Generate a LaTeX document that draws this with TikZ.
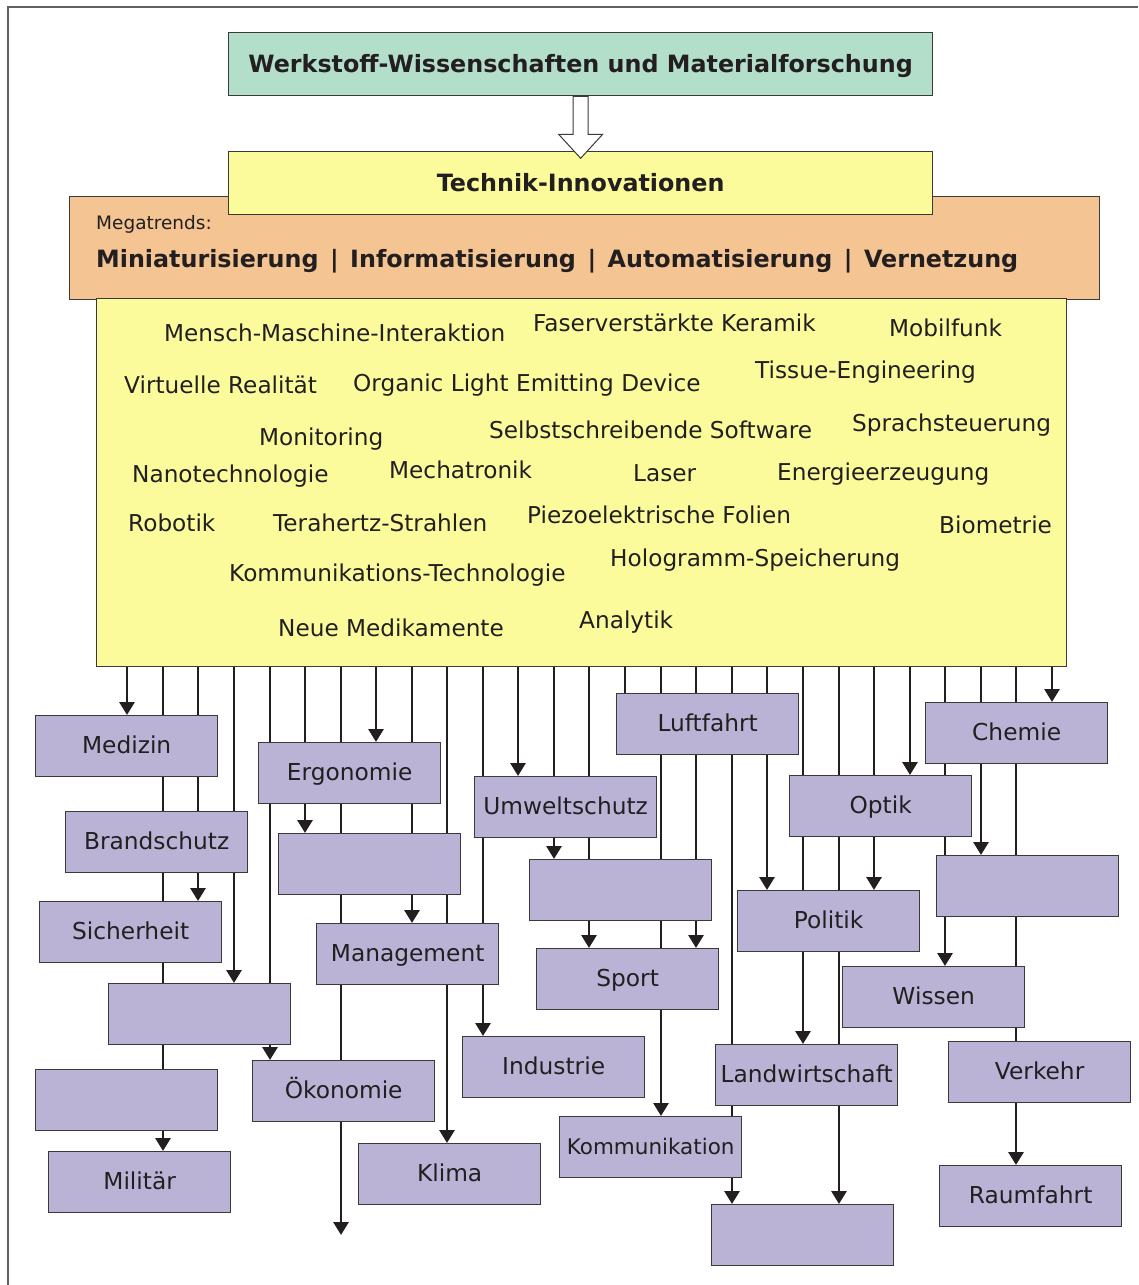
\documentclass[tikz,border=0pt]{standalone}
\usepackage{fontspec}
\setmainfont{DejaVu Sans}
\usetikzlibrary{arrows.meta,calc}
\definecolor{txt}{HTML}{231F20}
\definecolor{lc}{HTML}{231F20}
\definecolor{edge}{HTML}{3A3A3A}
\definecolor{green}{HTML}{B3DEC9}
\definecolor{yel}{HTML}{FBFB9C}
\definecolor{orng}{HTML}{F4C592}
\definecolor{purp}{HTML}{BBB3D6}
\pgfdeclarelayer{bg}
\pgfsetlayers{bg,main}
\begin{document}
\begin{tikzpicture}[x=1pt,y=-1pt,
  frame/.style={draw=edge, line width=1.3pt, anchor=north west, inner sep=0pt},
  pbox/.style={frame, fill=purp, minimum width=182pt, minimum height=61pt,
    font=\fontsize{23.3}{27}\selectfont, text=txt, text height=16.5pt, text depth=2.5pt},
  bigbox/.style={frame, font=\fontsize{23.8}{28}\bfseries\selectfont, text=txt,
    text height=17pt, text depth=0pt},
  term/.style={anchor=base west, inner sep=0pt, text=txt, font=\fontsize{23.2}{27}\selectfont},
  conn/.style={draw=lc, line width=2.9pt},
  arr/.style={conn, -{Triangle[width=15pt,length=13pt]}}]
\useasboundingbox (0,0) rectangle (1138,1285);
% outer frame (top and left edges visible)
\draw[draw=edge!80, line width=1.2pt] (8,1285) -- (8,7) -- (1138,7);

% top boxes
\node[bigbox, fill=green, minimum width=704pt, minimum height=63pt] (title) at (228,32)
  {Werkstoff-Wissenschaften und Materialforschung};
\node[frame, fill=orng, minimum width=1030pt, minimum height=103pt] (mega) at (69,196) {};
\node[bigbox, fill=yel, minimum width=704pt, minimum height=63pt] (tech) at (228,151)
  {Technik-Innovationen};
\draw[draw=edge, fill=white, line width=1pt, line join=miter]
  ($(title.south)+(-7.5,0)$) -- ($(title.south)+(7.5,0)$) -- ($(title.south)+(7.5,38)$)
  -- ($(title.south)+(22,38)$) -- ($(title.south)+(0,62)$) -- ($(title.south)+(-22,38)$)
  -- ($(title.south)+(-7.5,38)$) -- cycle;
\node[term, font=\fontsize{18.5}{22}\selectfont] (megalbl) at (96,229) {Megatrends:};
\node[term, font=\fontsize{23.8}{28}\bfseries\selectfont] (trends) at (96,267)
  {Miniaturisierung\hspace{11.5pt}|\hspace{11.5pt}Informatisierung\hspace{11.5pt}|\hspace{11.5pt}Automatisierung\hspace{11.5pt}|\hspace{11.5pt}Vernetzung};
\node[frame, fill=yel, minimum width=970pt, minimum height=368pt] (inno) at (96,298) {};

% innovation terms
\node[term] (t1) at (164,341) {Mensch-Maschine-Interaktion};
\node[term] (t2) at (533,331) {Faserverstärkte Keramik};
\node[term] (t3) at (889,336) {Mobilfunk};
\node[term] (t4) at (124,393) {Virtuelle Realität};
\node[term] (t5) at (353,391) {Organic Light Emitting Device};
\node[term] (t6) at (755,378) {Tissue-Engineering};
\node[term] (t7) at (259,445) {Monitoring};
\node[term] (t8) at (489,438) {Selbstschreibende Software};
\node[term] (t9) at (852,431) {Sprachsteuerung};
\node[term] (t10) at (132,482) {Nanotechnologie};
\node[term] (t11) at (389,478) {Mechatronik};
\node[term] (t12) at (633,481) {Laser};
\node[term] (t13) at (777,480) {Energieerzeugung};
\node[term] (t14) at (128,531) {Robotik};
\node[term] (t15) at (273,531) {Terahertz-Strahlen};
\node[term] (t16) at (527,523) {Piezoelektrische Folien};
\node[term] (t17) at (939,533) {Biometrie};
\node[term] (t18) at (229,581) {Kommunikations-Technologie};
\node[term] (t19) at (610,566) {Hologramm-Speicherung};
\node[term] (t20) at (278,636) {Neue Medikamente};
\node[term] (t21) at (579,628) {Analytik};

% application boxes
\node[pbox] (med) at (35,715) {Medizin};
\node[pbox] (bs) at (65,811) {Brandschutz};
\node[pbox] (sich) at (39,901) {Sicherheit};
\node[pbox] (e1) at (108,983) {};
\node[pbox] (e2) at (35,1069) {};
\node[pbox] (mil) at (48,1151) {Militär};
\node[pbox] (ergo) at (258,742) {Ergonomie};
\node[pbox] (e3) at (278,833) {};
\node[pbox] (mgmt) at (316,923) {Management};
\node[pbox] (oek) at (252,1060) {Ökonomie};
\node[pbox] (klima) at (358,1143) {Klima};
\node[pbox] (umw) at (474,776) {Umweltschutz};
\node[pbox] (e4) at (529,859) {};
\node[pbox] (sport) at (536,948) {Sport};
\node[pbox] (ind) at (462,1036) {Industrie};
\node[pbox, font=\fontsize{21.5}{25}\selectfont] (komm) at (559,1116) {Kommunikation};
\node[pbox] (luft) at (616,693) {Luftfahrt};
\node[pbox] (pol) at (737,890) {Politik};
\node[pbox] (land) at (715,1044) {Landwirtschaft};
\node[pbox] (e5) at (711,1204) {};
\node[pbox] (optik) at (789,775) {Optik};
\node[pbox] (chem) at (925,702) {Chemie};
\node[pbox] (e6) at (936,855) {};
\node[pbox] (wiss) at (842,966) {Wissen};
\node[pbox] (verk) at (948,1041) {Verkehr};
\node[pbox] (raum) at (939,1165) {Raumfahrt};

% connector columns
\foreach \i/\xx in {1/127,2/163,3/198,4/234,5/270,6/305,7/341,8/376,9/412,10/447,
  11/483,12/518,13/554,14/589,15/625,16/661,17/696,18/732,19/767,20/803,21/839,
  22/874,23/910,24/945,25/981,26/1016,27/1052}
  \coordinate (L\i) at (\xx,0);
\coordinate (free7) at (341,1235);

\begin{pgfonlayer}{bg}
\draw[arr] (inno.south -| L1) -- (med.north -| L1);
\draw[arr] (inno.south -| L2) -- (mil.north -| L2);
\draw[arr] (inno.south -| L3) -- (sich.north -| L3);
\draw[arr] (inno.south -| L4) -- (e1.north -| L4);
\draw[arr] (inno.south -| L5) -- (oek.north -| L5);
\draw[arr] (inno.south -| L6) -- (e3.north -| L6);
\draw[arr] (inno.south -| L7) -- (free7);
\draw[arr] (inno.south -| L8) -- (ergo.north -| L8);
\draw[arr] (inno.south -| L9) -- (mgmt.north -| L9);
\draw[arr] (inno.south -| L10) -- (klima.north -| L10);
\draw[arr] (inno.south -| L11) -- (ind.north -| L11);
\draw[arr] (inno.south -| L12) -- (umw.north -| L12);
\draw[arr] (inno.south -| L13) -- (e4.north -| L13);
\draw[arr] (inno.south -| L14) -- (sport.north -| L14);
\draw[conn] (inno.south -| L15) -- (luft.north -| L15);
\draw[arr] (inno.south -| L16) -- (komm.north -| L16);
\draw[arr] (inno.south -| L17) -- (sport.north -| L17);
\draw[arr] (inno.south -| L18) -- (e5.north -| L18);
\draw[arr] (inno.south -| L19) -- (pol.north -| L19);
\draw[arr] (inno.south -| L20) -- (land.north -| L20);
\draw[arr] (inno.south -| L21) -- (e5.north -| L21);
\draw[arr] (inno.south -| L22) -- (pol.north -| L22);
\draw[arr] (inno.south -| L23) -- (optik.north -| L23);
\draw[arr] (inno.south -| L24) -- (wiss.north -| L24);
\draw[arr] (inno.south -| L25) -- (e6.north -| L25);
\draw[arr] (inno.south -| L26) -- (raum.north -| L26);
\draw[arr] (inno.south -| L27) -- (chem.north -| L27);
\end{pgfonlayer}
\end{tikzpicture}
\end{document}
